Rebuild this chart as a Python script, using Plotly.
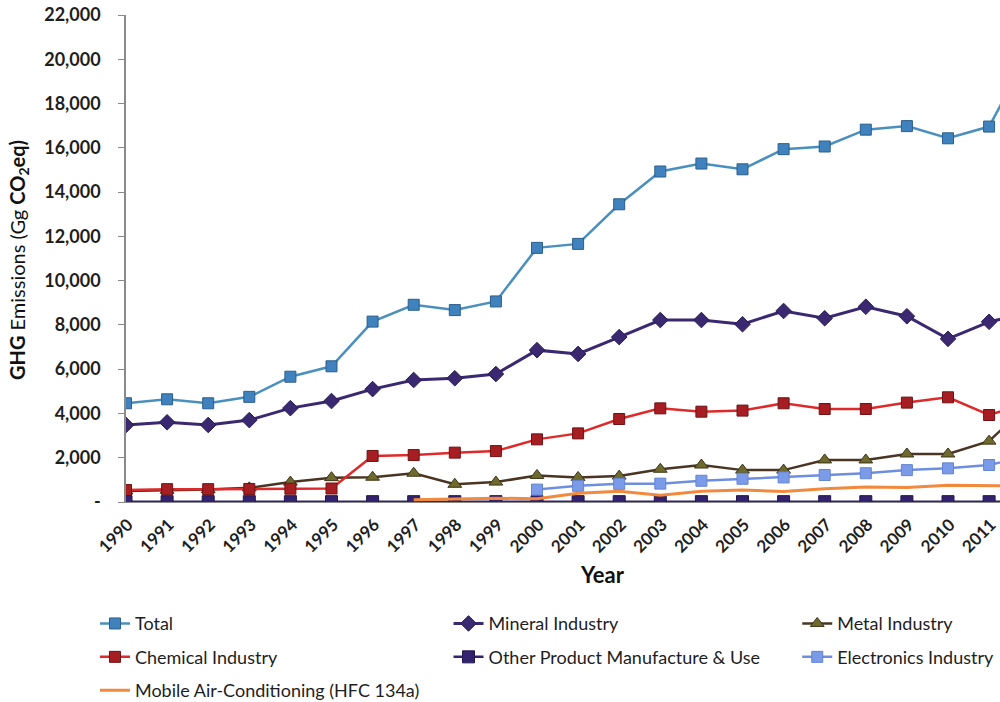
import plotly.graph_objects as go

# Industrial-process GHG emissions by source category, Gg CO2eq
years = list(range(1990, 2013))

total = [4460, 4640, 4460, 4750, 5660, 6130, 8150, 8910, 8670, 9060, 11480,
         11660, 13450, 14930, 15290, 15030, 15940, 16060, 16820, 16980, 16430,
         16960, 20400]
mineral = [3480, 3600, 3480, 3700, 4240, 4560, 5100, 5510, 5590, 5780, 6860,
           6690, 7450, 8220, 8220, 8030, 8630, 8300, 8820, 8390, 7370,
           8140, 8560]
metal = [500, 530, 560, 640, 900, 1100, 1120, 1300, 800, 900, 1200,
         1110, 1170, 1480, 1670, 1440, 1440, 1900, 1900, 2170, 2170,
         2750, 4500]
chemical = [540, 580, 580, 590, 600, 610, 2080, 2120, 2230, 2300, 2830,
            3100, 3750, 4230, 4080, 4130, 4460, 4200, 4200, 4490, 4730,
            3930, 4500]
other = [15] * len(years)
electronics = [None] * 10 + [560, 730, 820, 830, 960, 1050, 1110, 1220, 1300,
                             1440, 1520, 1670, 2100]
mobile_ac = [None] * 7 + [100, 140, 170, 150, 400, 480, 300, 480, 540, 470,
                          600, 680, 660, 760, 720, 720]

y_ticks = list(range(0, 22001, 2000))
y_tick_text = ["-" if v == 0 else f"{v:,}" for v in y_ticks]

FONT = "Lato"
INK = "#1E1E1E"

fig = go.Figure()


def add_series(name, values, legend, line_color, width, symbol=None,
               marker_color=None, marker_line=None, size=11):
    mode = "lines+markers" if symbol else "lines"
    marker = None
    if symbol:
        marker = dict(symbol=symbol, size=size, color=marker_color,
                      line=dict(color=marker_line, width=1))
    fig.add_trace(go.Scatter(
        x=years, y=values, name=name, mode=mode, legend=legend,
        legendgroup=name, connectgaps=False,
        line=dict(color=line_color, width=width),
        marker=marker,
    ))


add_series("Total", total, "legend", "#4A90BF", 2.5, "square",
           "#3F82BE", "#2B5F8C", 11)
add_series("Mineral Industry", mineral, "legend2", "#3A2870", 3, "diamond",
           "#3A2870", "#2A1C55", 12)
add_series("Metal Industry", metal, "legend3", "#4A3422", 2.5, "triangle-up",
           "#6E6A2E", "#3E3418", 12)
add_series("Chemical Industry", chemical, "legend", "#DE2A2A", 2.5, "square",
           "#A61E22", "#6E1215", 11)
add_series("Other Product Manufacture & Use", other, "legend2", "#33236E", 2.5,
           "square", "#33226E", "#22164F", 12)
add_series("Electronics Industry", electronics, "legend3", "#6E8FE0", 2.5,
           "square", "#7B9BE8", "#6384D4", 11)
add_series("Mobile Air-Conditioning (HFC 134a)", mobile_ac, "legend",
           "#F28A3E", 3)

legend_common = dict(
    orientation="v", traceorder="grouped", tracegroupgap=7,
    font=dict(family=FONT, size=18, color=INK),
    bgcolor="rgba(0,0,0,0)", yanchor="top", xanchor="left",
    itemclick=False,
)
legend_y = -0.212

fig.update_layout(
    width=1000, height=702,
    margin=dict(l=126, r=0, t=15, b=200, autoexpand=False),
    paper_bgcolor="white", plot_bgcolor="white",
    showlegend=True,
    legend=dict(x=-0.0355, y=legend_y, **legend_common),
    legend2=dict(x=0.369, y=legend_y, **legend_common),
    legend3=dict(x=0.768, y=legend_y, **legend_common),
    xaxis=dict(
        range=[1990, 1990 + 874 / 41.1],
        tickmode="array", tickvals=years[:-1],
        ticktext=[str(y) for y in years[:-1]],
        tickangle=-45, ticks="", showgrid=False, zeroline=False,
        ticklabelstandoff=5, ticklabelshift=2, ticklabeloverflow="allow",
        showline=True, linecolor="#8A8A8A", linewidth=1,
        tickfont=dict(family=FONT, size=17, color=INK, weight="bold"),
    ),
    yaxis=dict(
        range=[0, 22000], tickmode="array", tickvals=y_ticks,
        ticktext=y_tick_text, ticks="outside", ticklen=6,
        tickcolor="#8A8A8A", tickwidth=1, ticklabelstandoff=14,
        showgrid=False, zeroline=False,
        showline=True, linecolor="#8A8A8A", linewidth=1.5,
        tickfont=dict(family=FONT, size=18, color=INK, weight="bold"),
    ),
    annotations=[
        dict(text="<b>Year</b>", xref="paper", yref="paper",
             x=(602 - 126) / 874, y=(502 - 574) / 487,
             xanchor="center", yanchor="middle", showarrow=False,
             font=dict(family=FONT, size=22, color="#111111")),
        dict(text="<b>GHG</b> Emissions (Gg <b>CO<sub>2</sub>eq)</b>",
             xref="paper", yref="paper",
             x=(18 - 126) / 874, y=(502 - 260) / 487, textangle=-90,
             xanchor="center", yanchor="middle", showarrow=False,
             font=dict(family=FONT, size=20, color="#111111")),
    ],
)

fig.write_html("out.html")
